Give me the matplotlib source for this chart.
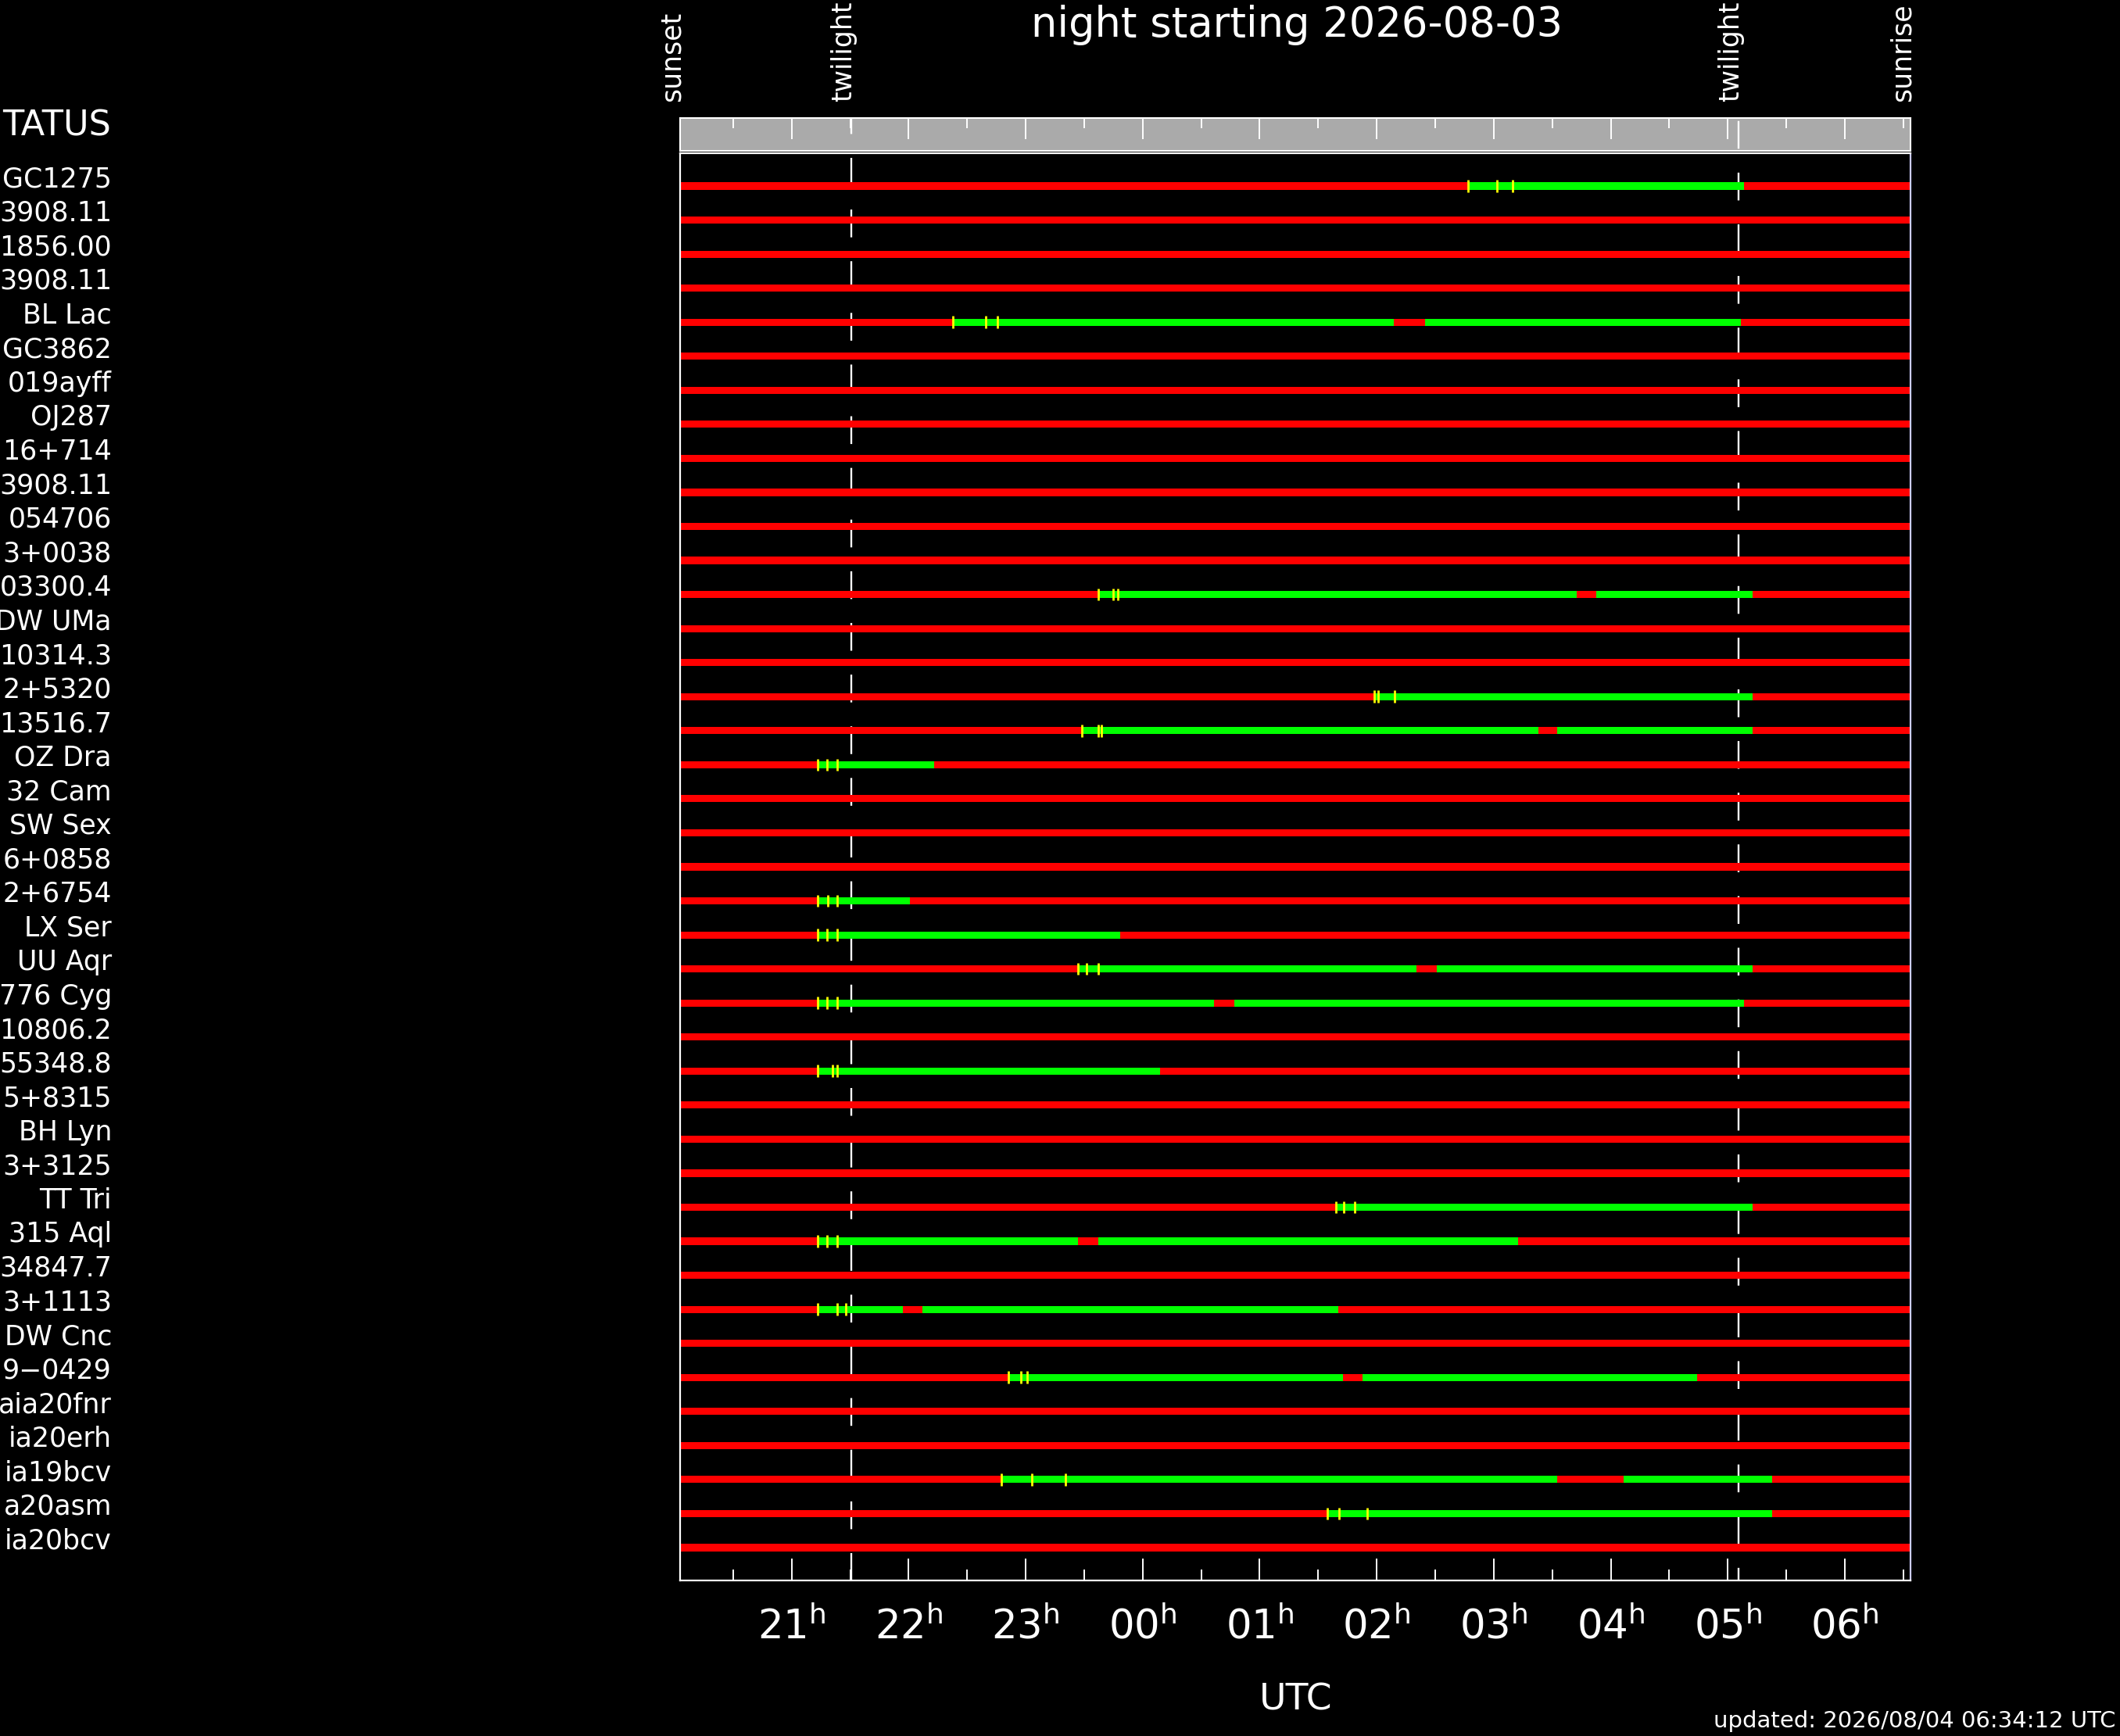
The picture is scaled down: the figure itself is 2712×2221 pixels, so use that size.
import matplotlib
matplotlib.use('Agg')
import matplotlib.pyplot as plt
import matplotlib.transforms as mtransforms

plt.rcParams['lines.scale_dashes'] = False
plt.rcParams['font.family'] = ['DejaVu Sans']

W, H, DPI = 2712, 2221, 100

# target names as they show at the (clipped) left edge
targets = ['GC1275', '3908.11', '1856.00', '3908.11', 'BL Lac', 'GC3862',
           '019ayff', 'OJ287', '16+714', '3908.11', '054706', '3+0038',
           '03300.4', 'DW UMa', '10314.3', '2+5320', '13516.7', 'OZ Dra',
           '32 Cam', 'SW Sex', '6+0858', '2+6754', 'LX Ser', 'UU Aqr',
           '776 Cyg', '10806.2', '55348.8', '5+8315', 'BH Lyn', '3+3125',
           'TT Tri', '315 Aql', '34847.7', '3+1113', 'DW Cnc', '9\u22120429',
           'aia20fnr', 'ia20erh', 'ia19bcv', 'a20asm', 'ia20bcv']

# observable (green) windows per row, UT hours (>24 = after midnight)
green_windows = {
    0: [(26.78, 29.135)],
    4: [(22.383, 26.148), (26.41, 29.111)],
    12: [(23.62, 27.71), (27.873, 29.21)],
    15: [(25.98, 29.21)],
    16: [(23.481, 27.379), (27.539, 29.21)],
    17: [(21.223, 22.216)],
    21: [(21.22, 22.01)],
    22: [(21.22, 23.81)],
    23: [(23.45, 26.34), (26.51, 29.21)],
    24: [(21.22, 24.61), (24.78, 29.14)],
    26: [(21.22, 24.15)],
    30: [(25.65, 29.21)],
    31: [(21.22, 23.45), (23.62, 27.21)],
    33: [(21.22, 21.95), (22.12, 25.67)],
    35: [(22.85, 25.71), (25.88, 28.74)],
    38: [(22.79, 27.54), (28.11, 29.38)],
    39: [(25.58, 29.38)],
}

# yellow markers per row
markers = {
    0: [26.78, 27.03, 27.16],
    4: [22.38, 22.66, 22.76],
    12: [23.62, 23.75, 23.79],
    15: [25.98, 26.01, 26.15],
    16: [23.48, 23.62, 23.65],
    17: [21.22, 21.30, 21.39],
    21: [21.22, 21.31, 21.39],
    22: [21.22, 21.30, 21.39],
    23: [23.45, 23.52, 23.62],
    24: [21.22, 21.30, 21.39],
    26: [21.22, 21.35, 21.39],
    30: [25.65, 25.72, 25.81],
    31: [21.22, 21.30, 21.39],
    33: [21.22, 21.39, 21.46],
    35: [22.85, 22.96, 23.01],
    38: [22.79, 23.05, 23.34],
    39: [25.58, 25.68, 25.92],
}

sunset = 20.047
twilight_evening = 21.51
twilight_morning = 29.09
sunrise = 30.561
hour_ticks = list(range(21, 31))
hour_labels = ['21', '22', '23', '00', '01', '02', '03', '04', '05', '06']
half_ticks = [h + 0.5 for h in range(20, 31)]

RED = '#ff0000'
GREEN = '#00ff00'
YELLOW = '#ffff00'


def px_box(left, top, right, bottom):
    return [left / W, 1 - bottom / H, (right - left) / W, (bottom - top) / H]


fig = plt.figure(figsize=(W / DPI, H / DPI), dpi=DPI, facecolor='black')

# grey time band on top
band = fig.add_axes(px_box(870, 151, 2444, 193))
band.set_facecolor('#aaaaaa')
band.set_xlim(sunset, sunrise)
band.set_ylim(0, 1)
band.set_yticks([])
band.set_xticks(hour_ticks)
band.set_xticks(half_ticks, minor=True)
band.tick_params(axis='x', which='both', bottom=False, top=True,
                 labelbottom=False, direction='in', color='white', width=1.4)
band.tick_params(axis='x', which='major', length=27 * 0.72)
band.tick_params(axis='x', which='minor', length=13 * 0.72)
for s in band.spines.values():
    s.set_color('white')
    s.set_linewidth(1.5)

# main chart
ax = fig.add_axes(px_box(870, 196, 2444, 2022))
ax.set_facecolor('black')
n = len(targets)
ax.set_xlim(sunset, sunrise)
ax.set_ylim(n - 1 + 0.964, -0.964)

for i in range(n):
    ax.broken_barh([(sunset, sunrise - sunset)], (i - 0.105, 0.21),
                   facecolor=RED, edgecolor='none', zorder=2)
    wins = green_windows.get(i, [])
    if wins:
        ax.broken_barh([(a, b - a) for a, b in wins], (i - 0.105, 0.21),
                       facecolor=GREEN, edgecolor='none', zorder=3)
    if i in markers:
        ax.vlines(markers[i], i - 0.18, i + 0.18, color=YELLOW, lw=2.0,
                  zorder=4)

# dashed twilight lines, running up through the grey band
for tw, off in [(twilight_evening, 10.9), (twilight_morning, 44.9)]:
    ax.plot([tw, tw], [-2.0, n - 1 + 0.964], color='white', lw=1.7,
            ls=(off, (25.6, 22.0)), clip_on=False, zorder=1,
            solid_capstyle='butt', dash_capstyle='butt')

ax.set_xticks(hour_ticks)
ax.set_xticklabels([lab + r'$^{\mathrm{h}}$' for lab in hour_labels])
ax.set_xticks(half_ticks, minor=True)
ax.tick_params(axis='x', which='both', direction='in', color='white',
               width=1.4, top=False, labelcolor='white')
ax.tick_params(axis='x', which='major', length=28 * 0.72, labelsize=37,
               pad=25)
ax.tick_params(axis='x', which='minor', length=14 * 0.72)
ax.tick_params(axis='y', left=False, labelleft=False)
for s in ax.spines.values():
    s.set_color('white')
    s.set_linewidth(1.6)
ax.spines['right'].set_color('#ccccff')

# row labels, right aligned at the left side of the figure
lab_tr = mtransforms.blended_transform_factory(fig.transFigure, ax.transData)
for i, name in enumerate(targets):
    ax.text(143 / W, i + 0.03, name, transform=lab_tr, ha='right',
            va='baseline', fontsize=25, color='white', clip_on=False)
fig.text(142 / W, 1 - 174 / H, 'TATUS', ha='right', va='baseline',
         fontsize=32, color='white')

# sunset / twilight / sunrise marks
ev_tr = mtransforms.offset_copy(
    mtransforms.blended_transform_factory(ax.transData, fig.transFigure),
    fig=fig, x=-10, y=0, units='dots')
for x, txt in [(sunset, 'sunset'), (twilight_evening, 'twilight'),
               (twilight_morning, 'twilight'), (sunrise, 'sunrise')]:
    ax.text(x, 1 - 130 / H, txt, transform=ev_tr, rotation=90, ha='center',
            va='bottom', fontsize=25, color='white', clip_on=False)

fig.text(1659 / W, 1 - 47 / H, 'night starting 2026-08-03', ha='center',
         va='baseline', fontsize=38, color='white')
fig.text(1658 / W, 1 - 2175 / H, 'UTC', ha='center', va='center',
         fontsize=34, color='white')
fig.text(2707 / W, 1 - 2202 / H, 'updated: 2026/08/04 06:34:12 UTC',
         ha='right', va='center', fontsize=21, color='white')

fig.savefig('out.png', dpi=DPI, facecolor='black')
